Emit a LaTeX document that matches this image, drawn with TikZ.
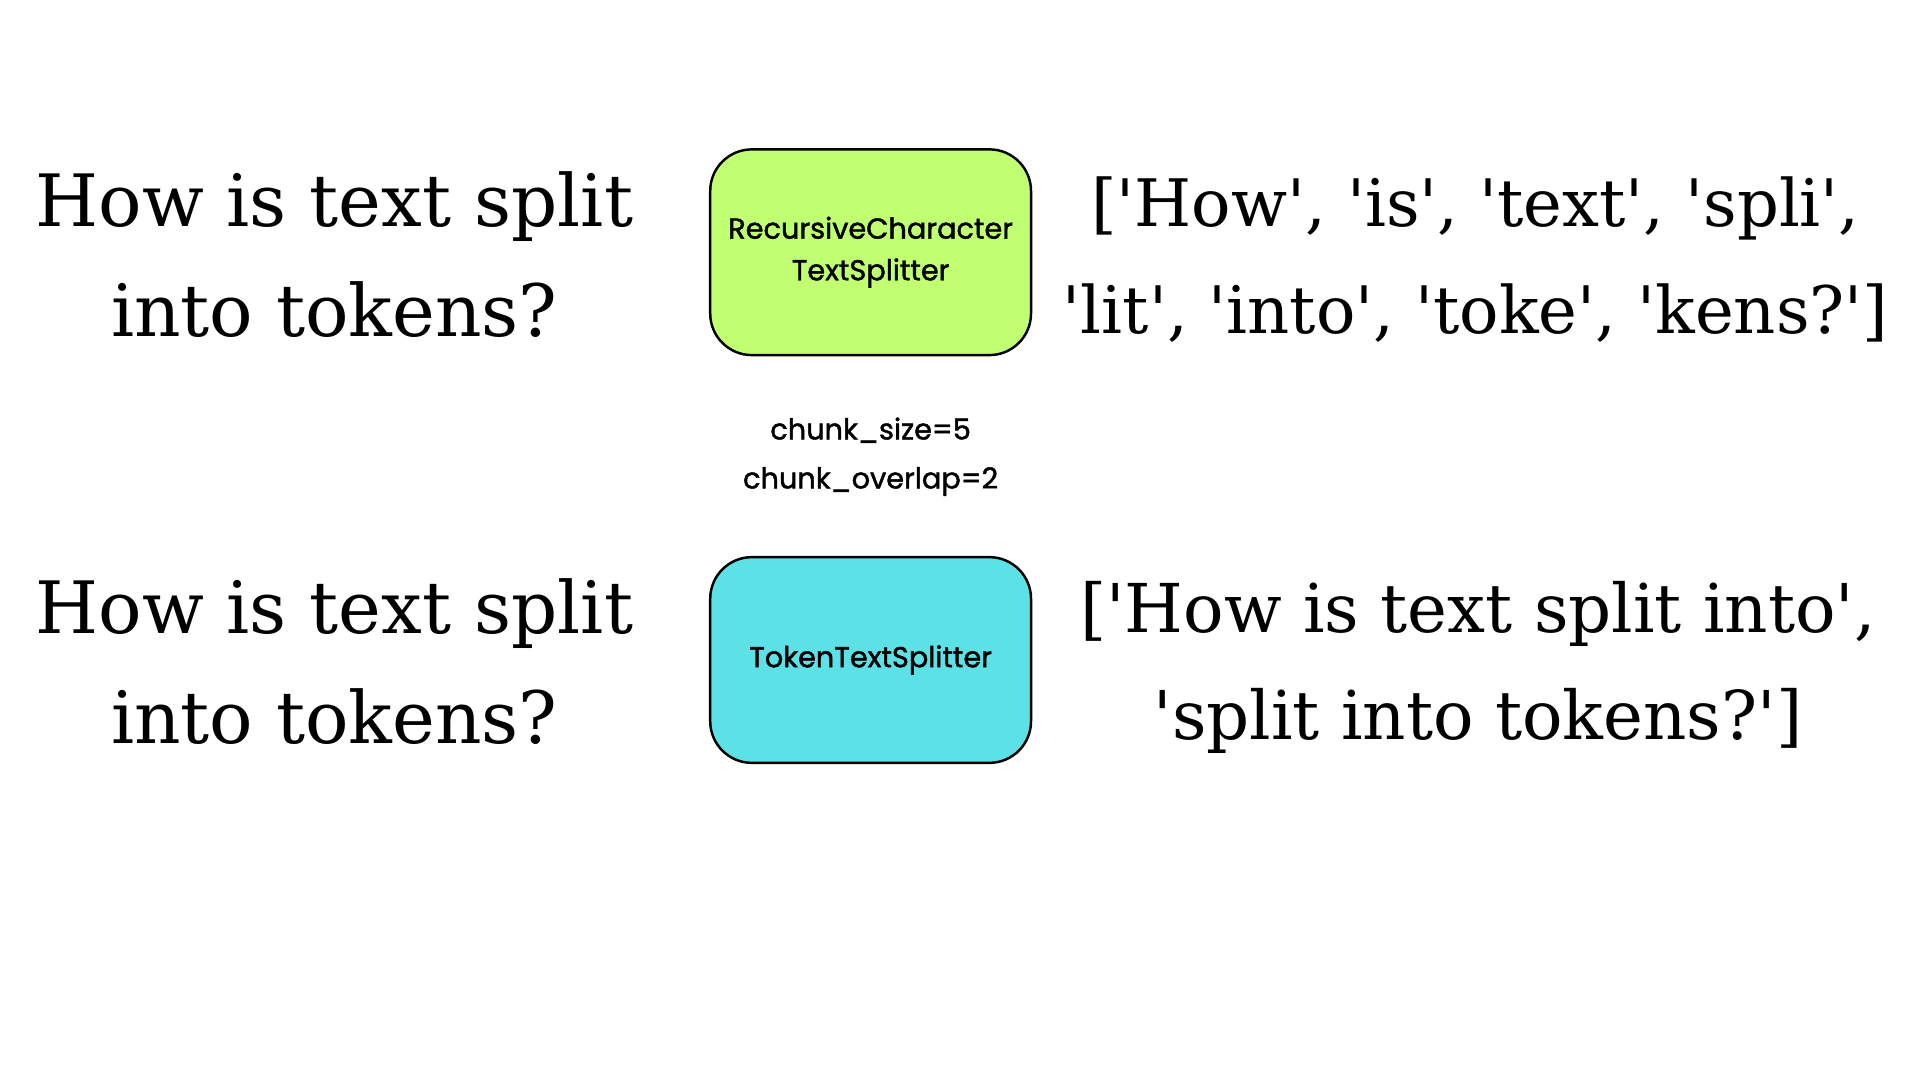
\documentclass[tikz,border=0pt]{standalone}
\usepackage{fontspec}
\setmainfont{DejaVu Serif}[Ligatures=TeXOff]
\newfontfamily\boxfont{Poppins}[FakeBold=1.5]
\definecolor{lime}{HTML}{C1FF72}
\definecolor{aqua}{HTML}{5CE1E6}
\begin{document}
\begin{tikzpicture}[x=1pt,y=-1pt,
  big/.style={font=\fontsize{55}{88}\selectfont,align=center,inner sep=0},
  bigl/.style={font=\fontsize{59}{90}\selectfont,align=center,inner sep=0},
  small/.style={font=\boxfont\fontsize{23.5}{34}\selectfont,align=center,inner sep=0},
  splitbox/.style={draw=black,line width=2pt,rounded corners=34pt,minimum width=262pt,minimum height=168pt,inner sep=0}]
\useasboundingbox (0,0) rectangle (1568,882);
\node[splitbox,fill=lime] (b1) at (711,206) {};
\node[small] (t1) at (b1) {RecursiveCharacter\\TextSplitter};
\node[splitbox,fill=aqua] (b2) at (711,539) {};
\node[small] (t2) at (b2) {TokenTextSplitter};
\node[small,font=\boxfont\fontsize{23.5}{40}\selectfont] (p) at (711,373) {chunk\_size=5\\chunk\_overlap=2};
\node[bigl] (l1) at (273,208) {How is text split\\into tokens?};
\node[bigl] (l2) at (273,540) {How is text split\\into tokens?};
\node[big,font=\fontsize{53.5}{88}\selectfont] (r1) at (1205,212) {['How', 'is', 'text', 'spli',\\'lit', 'into', 'toke', 'kens?']};
\node[big] (r2) at (1207,545) {['How is text split into',\\'split into tokens?']};
\end{tikzpicture}
\end{document}
